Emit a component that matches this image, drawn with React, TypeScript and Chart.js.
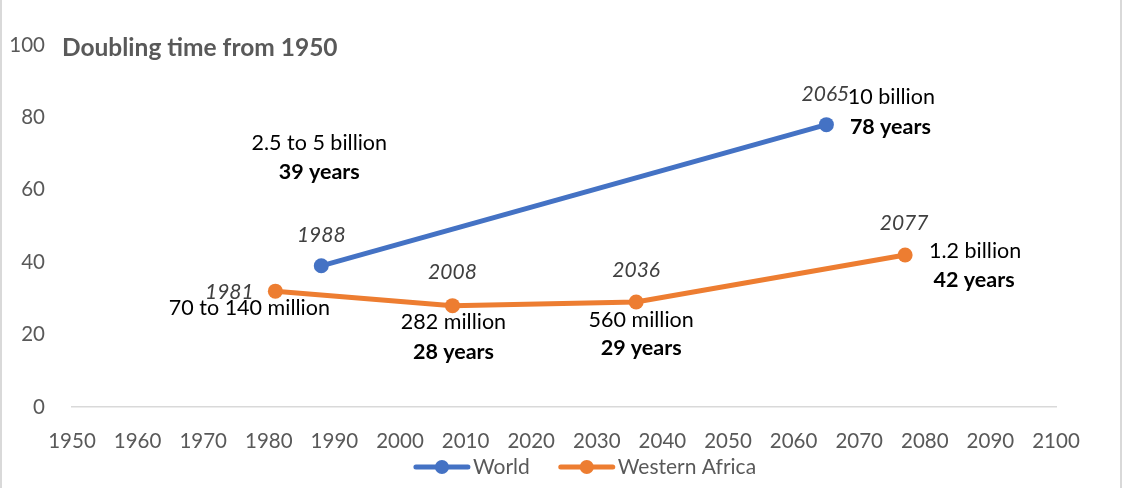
import React, { useEffect, useRef } from "react";
import { Chart, registerables } from "chart.js";

Chart.register(...registerables);

// ---- data ----
const seriesNames = ["World", "Western Africa"];
const worldYears = [1988, 2065];
const worldDoubling = [39, 78];
const worldPopLabels = ["2.5 to 5 billion", "10 billion"];
const worldShowYears = [true, true];

const westAfricaYears = [1981, 2008, 2036, 2077];
const westAfricaDoubling = [32, 28, 29, 42];
const westAfricaPopLabels = ["70 to 140 million", "282 million", "560 million", "1.2 billion"];
const westAfricaShowYears = [false, true, true, true];

const xMin = 1950;
const xMax = 2100;
const xStep = 10;
const yMin = 0;
const yMax = 100;
const yStep = 20;
const titleText = "Doubling time from 1950";

// ---- styles ----
const FONT = "Lato";
const BLUE = "#4472C4";
const ORANGE = "#ED7D31";
const GRAY = "#595959";
const W = 1124;
const H = 488;

// label offsets (pixels, relative to each point)
const worldLabelPos = [
  { year: [0, -31], pop: [-2, -123], yrs: [-2, -94] },
  { year: [-1, -30], pop: [65, -28], yrs: [64, 2] },
];
const westAfricaLabelPos = [
  { year: [-46, 1], pop: [-26, 17], yrs: [0, 0] },
  { year: [0, -33], pop: [1, 16], yrs: [1, 46] },
  { year: [0, -32], pop: [5, 18], yrs: [5, 46] },
  { year: [-1, -32], pop: [70, -4], yrs: [69, 25] },
];

const annotatePlugin = {
  id: "annotate",
  beforeDraw(chart: any) {
    const ctx = chart.ctx;
    ctx.save();
    ctx.fillStyle = "#ffffff";
    ctx.fillRect(0, 0, W, H);
    ctx.fillStyle = "#d9d9d9";
    ctx.fillRect(0, 0, 2, H);
    ctx.fillRect(1120, 0, 2, H);
    ctx.restore();
  },
  afterDatasetsDraw(chart: any) {
    const ctx = chart.ctx;
    const xs = chart.scales.x;
    const ys = chart.scales.y;
    ctx.save();
    ctx.textBaseline = "middle";

    // title
    ctx.textAlign = "left";
    ctx.fillStyle = GRAY;
    ctx.font = `bold 24.5px ${FONT}`;
    ctx.fillText(titleText, 62, 48);
    ctx.textAlign = "center";

    const drawSeries = (
      years: number[],
      vals: number[],
      pops: string[],
      show: boolean[],
      pos: any[]
    ) => {
      years.forEach((yr, i) => {
        const px = xs.getPixelForValue(yr);
        const py = ys.getPixelForValue(vals[i]);
        const p = pos[i];
        ctx.font = `italic 21px ${FONT}`;
        ctx.fillStyle = "#404040";
        ctx.fillText(String(yr), px + p.year[0], py + p.year[1]);
        ctx.font = `21.5px ${FONT}`;
        ctx.fillStyle = "#000000";
        ctx.fillText(pops[i], px + p.pop[0], py + p.pop[1]);
        if (show[i]) {
          ctx.font = `bold 21.5px ${FONT}`;
          ctx.fillText(`${vals[i]} years`, px + p.yrs[0], py + p.yrs[1]);
        }
      });
    };
    drawSeries(worldYears, worldDoubling, worldPopLabels, worldShowYears, worldLabelPos);
    drawSeries(westAfricaYears, westAfricaDoubling, westAfricaPopLabels, westAfricaShowYears, westAfricaLabelPos);
    ctx.restore();
  },
  afterDraw(chart: any) {
    // custom legend: line + marker + text
    const ctx = chart.ctx;
    ctx.save();
    ctx.font = `21px ${FONT}`;
    ctx.textBaseline = "middle";
    ctx.textAlign = "left";
    const lineLen = 56;
    const gapText = 3;
    const gapItem = 29;
    const items = chart.data.datasets.map((d: any) => ({
      label: d.label,
      color: d.borderColor,
      tw: ctx.measureText(d.label).width,
    }));
    const total =
      items.reduce((s: number, it: any) => s + lineLen + gapText + it.tw, 0) +
      gapItem * (items.length - 1);
    let x = 585 - total / 2;
    const y = 467;
    items.forEach((it: any) => {
      ctx.strokeStyle = it.color;
      ctx.lineWidth = 5;
      ctx.lineCap = "round";
      ctx.beginPath();
      ctx.moveTo(x + 2, y);
      ctx.lineTo(x + lineLen - 2, y);
      ctx.stroke();
      ctx.fillStyle = it.color;
      ctx.beginPath();
      ctx.arc(x + lineLen / 2, y, 7, 0, Math.PI * 2);
      ctx.fill();
      ctx.fillStyle = GRAY;
      ctx.fillText(it.label, x + lineLen + gapText, y);
      x += lineLen + gapText + it.tw + gapItem;
    });
    ctx.restore();
  },
};

export default function App() {
  const ref = useRef<HTMLCanvasElement | null>(null);
  useEffect(() => {
    if (!ref.current) return;
    const mk = (xsArr: number[], ysArr: number[]) =>
      xsArr.map((x, i) => ({ x, y: ysArr[i] }));
    const chart = new Chart(ref.current, {
      type: "line",
      data: {
        datasets: [
          {
            label: seriesNames[0],
            data: mk(worldYears, worldDoubling),
            borderColor: BLUE,
            backgroundColor: BLUE,
            borderWidth: 5,
            pointRadius: 7.5,
            pointHoverRadius: 7.5,
            pointBorderWidth: 0,
            tension: 0,
          },
          {
            label: seriesNames[1],
            data: mk(westAfricaYears, westAfricaDoubling),
            borderColor: ORANGE,
            backgroundColor: ORANGE,
            borderWidth: 5,
            pointRadius: 7.5,
            pointHoverRadius: 7.5,
            pointBorderWidth: 0,
            tension: 0,
          },
        ],
      },
      options: {
        responsive: false,
        animation: false,
        devicePixelRatio: 1,
        layout: { padding: { left: 0, right: 68, top: 45, bottom: 31 } },
        plugins: {
          legend: { display: false },
          tooltip: { enabled: false },
          title: { display: false },
        },
        scales: {
          x: {
            type: "linear",
            min: xMin,
            max: xMax,
            grid: { display: false, drawTicks: false },
            border: { display: true, color: "#d9d9d9", width: 1.5 },
            ticks: {
              stepSize: xStep,
              autoSkip: false,
              maxRotation: 0,
              color: GRAY,
              font: { family: FONT, size: 20.5 },
              padding: 22,
              callback: (v: any) => String(v),
            },
            afterFit: (s: any) => {
              s.height = 50;
            },
          },
          y: {
            min: yMin,
            max: yMax,
            grid: { display: false, drawTicks: false },
            border: { display: false },
            ticks: {
              stepSize: yStep,
              color: GRAY,
              font: { family: FONT, size: 20.5 },
              padding: 27,
            },
            afterFit: (s: any) => {
              s.width = 72;
            },
          },
        },
      },
      plugins: [annotatePlugin],
    });
    return () => chart.destroy();
  }, []);
  return (
    <div style={{ position: "fixed", left: 0, top: 0, width: W, height: H, background: "#fff" }}>
      <canvas ref={ref} width={W} height={H} style={{ display: "block" }} />
    </div>
  );
}
